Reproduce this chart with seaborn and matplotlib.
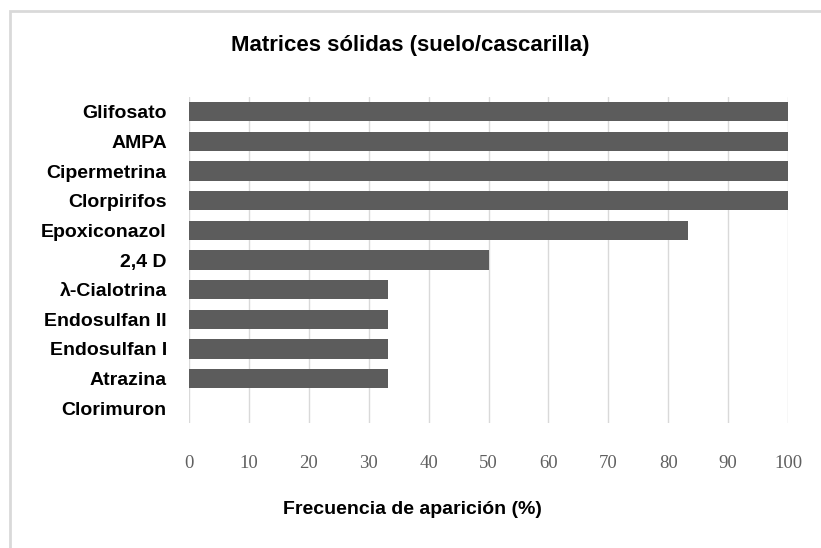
import pandas as pd
import matplotlib.pyplot as plt
import seaborn as sns
from matplotlib.patches import Rectangle

compuestos = ['Glifosato', 'AMPA', 'Cipermetrina', 'Clorpirifos', 'Epoxiconazol',
              '2,4 D', 'λ-Cialotrina', 'Endosulfan II', 'Endosulfan I', 'Atrazina',
              'Clorimuron']
frecuencia = [100, 100, 100, 100, 83.3, 50, 33.3, 33.3, 33.3, 33.3, 0]
ticks_x = [0, 10, 20, 30, 40, 50, 60, 70, 80, 90, 100]

df = pd.DataFrame({'compuesto': compuestos, 'frecuencia': frecuencia})

sns.set_style("white")
plt.rcParams['font.family'] = ['Liberation Sans', 'DejaVu Sans']
plt.rcParams['text.color'] = 'black'

fig = plt.figure(figsize=(8.21, 5.48), dpi=100)
W, H = 821, 548
ax = fig.add_axes([189 / W, 1 - 423 / H, (788 - 189) / W, (423 - 97) / H])

sns.barplot(data=df, x='frecuencia', y='compuesto', color='#5c5c5c', width=0.65,
            edgecolor='none', linewidth=0, ax=ax, zorder=3)

ax.set_xlim(0, 100)
ax.set_ylim(10.5, -0.5)
ax.set_xticks(ticks_x)
ax.set_xticklabels([str(t) for t in ticks_x], family=['Liberation Serif', 'DejaVu Serif'],
                   fontsize=13.5, color='#606060')
ax.tick_params(axis='x', length=0, pad=23)
ax.tick_params(axis='y', length=0, pad=16, labelsize=14, labelcolor='black')
for lab in ax.get_yticklabels():
    lab.set_fontweight('bold')
ax.grid(axis='x', color='#d9d9d9', linewidth=1, zorder=0)
ax.set_axisbelow(True)
for s in ax.spines.values():
    s.set_visible(False)
ax.set_xlabel('')
ax.set_ylabel('')

fig.text(410 / W, 1 - 45 / H, 'Matrices sólidas (suelo/cascarilla)', ha='center', va='center',
         fontsize=16, fontweight='bold')
fig.text(412 / W, 1 - 510 / H, 'Frecuencia de aparición (%)', ha='center', va='center',
         fontsize=14, fontweight='bold')

fig.patches.append(Rectangle((9.5 / W, -0.1), 1.2, 1 - 11 / H + 0.1, transform=fig.transFigure,
                             fill=False, edgecolor='#d9d9d9', linewidth=2))

fig.savefig('out.png', dpi=100)
